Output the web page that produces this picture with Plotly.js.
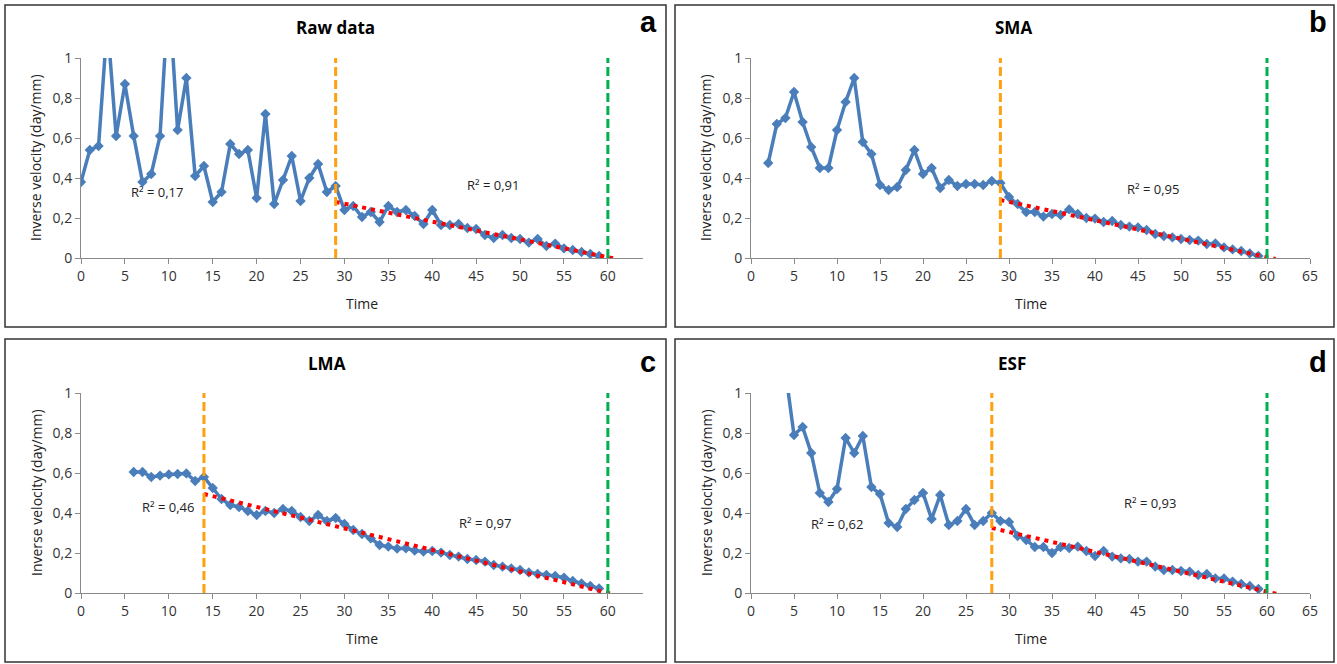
<!DOCTYPE html>
<html><head><meta charset="utf-8">
<script src="https://cdn.plot.ly/plotly-3.0.1.min.js"></script>
<style>html,body{margin:0;padding:0;background:#fff}#chart{width:1337px;height:664px}</style>
</head><body><div id="chart"></div>
<script>
// ---------- DATA ----------
const rawTime = [0,1,2,3,4,5,6,7,8,9,10,11,12,13,14,15,16,17,18,19,20,21,22,23,24,25,26,27,28,29,30,31,32,33,34,35,36,37,38,39,40,41,42,43,44,45,46,47,48,49,50,51,52,53,54,55,56,57,58,59];
const rawValues = [0.38,0.54,0.56,1.18,0.61,0.87,0.61,0.38,0.42,0.61,1.34,0.64,0.90,0.41,0.46,0.28,0.33,0.57,0.52,0.54,0.30,0.72,0.27,0.39,0.51,0.285,0.40,0.47,0.33,0.36,
  0.24,0.26,0.205,0.23,0.18,0.26,0.23,0.24,0.21,0.17,0.24,0.165,0.165,0.17,0.15,0.145,0.115,0.10,0.115,0.10,0.095,0.077,0.095,0.06,0.072,0.048,0.04,0.03,0.02,0.01];

const smaTime = [2,3,4,5,6,7,8,9,10,11,12,13,14,15,16,17,18,19,20,21,22,23,24,25,26,27,28,29,30,31,32,33,34,35,36,37,38,39,40,41,42,43,44,45,46,47,48,49,50,51,52,53,54,55,56,57,58,59];
const smaValues = [0.475,0.67,0.70,0.83,0.68,0.555,0.45,0.45,0.64,0.78,0.90,0.58,0.52,0.365,0.34,0.355,0.44,0.54,0.42,0.45,0.35,0.39,0.36,0.37,0.37,0.365,0.385,0.375,
  0.305,0.27,0.23,0.23,0.207,0.22,0.215,0.243,0.22,0.20,0.197,0.18,0.185,0.165,0.157,0.153,0.14,0.12,0.11,0.103,0.095,0.09,0.087,0.07,0.073,0.053,0.043,0.035,0.023,0.01];

const lmaTime = [6,7,8,9,10,11,12,13,14,15,16,17,18,19,20,21,22,23,24,25,26,27,28,29,30,31,32,33,34,35,36,37,38,39,40,41,42,43,44,45,46,47,48,49,50,51,52,53,54,55,56,57,58,59];
const lmaValues = [0.605,0.605,0.58,0.587,0.593,0.595,0.598,0.56,0.58,0.525,0.47,0.44,0.43,0.41,0.39,0.41,0.40,0.42,0.41,0.38,0.36,0.39,0.36,0.375,
  0.345,0.315,0.295,0.273,0.24,0.232,0.222,0.224,0.212,0.207,0.21,0.202,0.19,0.182,0.17,0.165,0.157,0.14,0.132,0.123,0.115,0.103,0.095,0.09,0.085,0.077,0.06,0.048,0.035,0.023];

const esfTime = [4,5,6,7,8,9,10,11,12,13,14,15,16,17,18,19,20,21,22,23,24,25,26,27,28,29,30,31,32,33,34,35,36,37,38,39,40,41,42,43,44,45,46,47,48,49,50,51,52,53,54,55,56,57,58,59];
const esfValues = [1.11,0.79,0.83,0.70,0.50,0.455,0.52,0.775,0.70,0.785,0.53,0.495,0.35,0.33,0.42,0.465,0.50,0.37,0.49,0.34,0.36,0.42,0.34,0.36,0.40,0.36,
  0.355,0.285,0.265,0.23,0.23,0.20,0.23,0.225,0.232,0.21,0.185,0.21,0.182,0.173,0.17,0.157,0.157,0.132,0.115,0.115,0.11,0.107,0.09,0.095,0.073,0.073,0.057,0.045,0.035,0.02];

// linear trend lines (start / end)
const trendTimeA = [29, 61],   trendValA = [0.28, -0.005];
const trendTimeB = [29, 61],   trendValB = [0.29, -0.005];
const trendTimeC = [14, 60.5], trendValC = [0.495, -0.005];
const trendTimeD = [28, 61.5], trendValD = [0.325, -0.008];

const breakTimes   = [29, 29, 14, 28];   // orange dashed
const failureTimes = [60, 60, 60, 60];   // green dashed

const panelTitles  = ["Raw data", "SMA", "LMA", "ESF"];
const panelLetters = ["a", "b", "c", "d"];
const r2First  = ["R² = 0,17", "", "R² = 0,46", "R² = 0,62"];
const r2Second = ["R² = 0,91", "R² = 0,95", "R² = 0,97", "R² = 0,93"];

const yTickVals = [0, 0.2, 0.4, 0.6, 0.8, 1];
const yTickText = ["0", "0,2", "0,4", "0,6", "0,8", "1"];

// ---------- LAYOUT ----------
const W = 1337, H = 664;
const px = v => v / W, py = v => 1 - v / H;
const FONT = "Open Sans, DejaVu Sans, sans-serif";
const BLUE = "#4a7ebb", RED = "#ff0000", ORANGE = "#ffa010", GREEN = "#00b050";

const panels = [
  {x0: 81,  x1: 643,  yTop: 58,  yBot: 258, xmax: 64, series: [rawTime, rawValues], trend: [trendTimeA, trendValA],
   box: [5, 5, 666, 327], title: [335, 28], letter: [648, 22], ytitle: [36, 158], xtitle: 303,
   r1: [8.6, 0.33], r2: [46.9, 0.365]},
  {x0: 751, x1: 1310, yTop: 58,  yBot: 258, xmax: 65, series: [smaTime, smaValues], trend: [trendTimeB, trendValB],
   box: [675, 5, 1334, 327], title: [1013, 28], letter: [1318, 22], ytitle: [706, 158], xtitle: 303,
   r1: [8, 0.3], r2: [46.7, 0.345]},
  {x0: 81,  x1: 643,  yTop: 393, yBot: 593, xmax: 64, series: [lmaTime, lmaValues], trend: [trendTimeC, trendValC],
   box: [5, 339, 666, 662], title: [327, 363], letter: [648, 362], ytitle: [36, 493], xtitle: 638,
   r1: [9.9, 0.43], r2: [46, 0.35]},
  {x0: 751, x1: 1310, yTop: 393, yBot: 593, xmax: 65, series: [esfTime, esfValues], trend: [trendTimeD, trendValD],
   box: [675, 339, 1334, 662], title: [1012, 363], letter: [1318, 362], ytitle: [706, 493], xtitle: 638,
   r1: [10, 0.345], r2: [46.4, 0.45]}
];

const traces = [];
const layout = {
  width: W, height: H, margin: {l: 0, r: 0, t: 0, b: 0},
  paper_bgcolor: "#fff", plot_bgcolor: "#fff", showlegend: false,
  font: {family: FONT, color: "#404040"},
  annotations: [], shapes: []
};

panels.forEach((p, i) => {
  const n = i === 0 ? "" : String(i + 1);
  const xa = "x" + n, ya = "y" + n;
  layout["xaxis" + n] = {
    domain: [px(p.x0), px(p.x1)], anchor: ya, range: [0, p.xmax], tick0: 0, dtick: 5,
    showgrid: false, zeroline: false, showline: true, linecolor: "#8a8a8a", linewidth: 1,
    ticks: "outside", ticklen: 5, tickcolor: "#8a8a8a",
    tickfont: {family: FONT, size: 14, color: "#333"}, fixedrange: true
  };
  layout["yaxis" + n] = {
    domain: [py(p.yBot), py(p.yTop)], anchor: xa, range: [0, 1],
    tickvals: yTickVals, ticktext: yTickText,
    showgrid: false, zeroline: false, showline: true, linecolor: "#8a8a8a", linewidth: 1,
    ticks: "outside", ticklen: 5, tickcolor: "#8a8a8a",
    tickfont: {family: FONT, size: 14, color: "#333"}, fixedrange: true
  };
  traces.push({
    x: p.series[0], y: p.series[1], xaxis: xa, yaxis: ya, type: "scatter", mode: "lines+markers",
    line: {color: BLUE, width: 3.5}, marker: {symbol: "diamond", size: 8, color: BLUE}
  });
  traces.push({
    x: p.trend[0], y: p.trend[1], xaxis: xa, yaxis: ya, type: "scatter", mode: "lines",
    line: {color: RED, width: 4, dash: "4px,5px"}
  });
  traces.push({
    x: [breakTimes[i], breakTimes[i]], y: [0, 1], xaxis: xa, yaxis: ya, type: "scatter", mode: "lines",
    line: {color: ORANGE, width: 3, dash: "9px,4px"}
  });
  traces.push({
    x: [failureTimes[i], failureTimes[i]], y: [0, 1], xaxis: xa, yaxis: ya, type: "scatter", mode: "lines",
    line: {color: GREEN, width: 3, dash: "9px,4px"}
  });

  layout.shapes.push({type: "rect", xref: "paper", yref: "paper",
    x0: px(p.box[0]), x1: px(p.box[2]), y0: py(p.box[3]), y1: py(p.box[1]),
    line: {color: "#333", width: 1.5}, fillcolor: "rgba(0,0,0,0)"});

  layout.annotations.push(
    {xref: "paper", yref: "paper", x: px(p.title[0]), y: py(p.title[1]), text: "<b>" + panelTitles[i] + "</b>",
     showarrow: false, xanchor: "center", yanchor: "middle", font: {family: FONT, size: 17, color: "#000"}},
    {xref: "paper", yref: "paper", x: px(p.letter[0]), y: py(p.letter[1]), text: "<b>" + panelLetters[i] + "</b>",
     showarrow: false, xanchor: "center", yanchor: "middle", font: {family: "Liberation Sans, Arial, sans-serif", size: 29, color: "#000"}},
    {xref: "paper", yref: "paper", x: px(p.ytitle[0]), y: py(p.ytitle[1]), text: "Inverse velocity (day/mm)",
     textangle: -90, showarrow: false, xanchor: "center", yanchor: "middle", font: {family: FONT, size: 14, color: "#222"}},
    {xref: "paper", yref: "paper", x: px((p.x0 + p.x1) / 2), y: py(p.xtitle), text: "Time",
     showarrow: false, xanchor: "center", yanchor: "middle", font: {family: FONT, size: 14, color: "#222"}},
    {xref: xa, yref: ya, x: p.r2[0], y: p.r2[1], text: r2Second[i], showarrow: false,
     font: {family: FONT, size: 13, color: "#222"}}
  );
  if (r2First[i]) {
    layout.annotations.push({xref: xa, yref: ya, x: p.r1[0], y: p.r1[1], text: r2First[i], showarrow: false,
      font: {family: FONT, size: 13, color: "#222"}});
  }
});

Plotly.newPlot("chart", traces, layout, {displayModeBar: false, staticPlot: true});
</script></body></html>
